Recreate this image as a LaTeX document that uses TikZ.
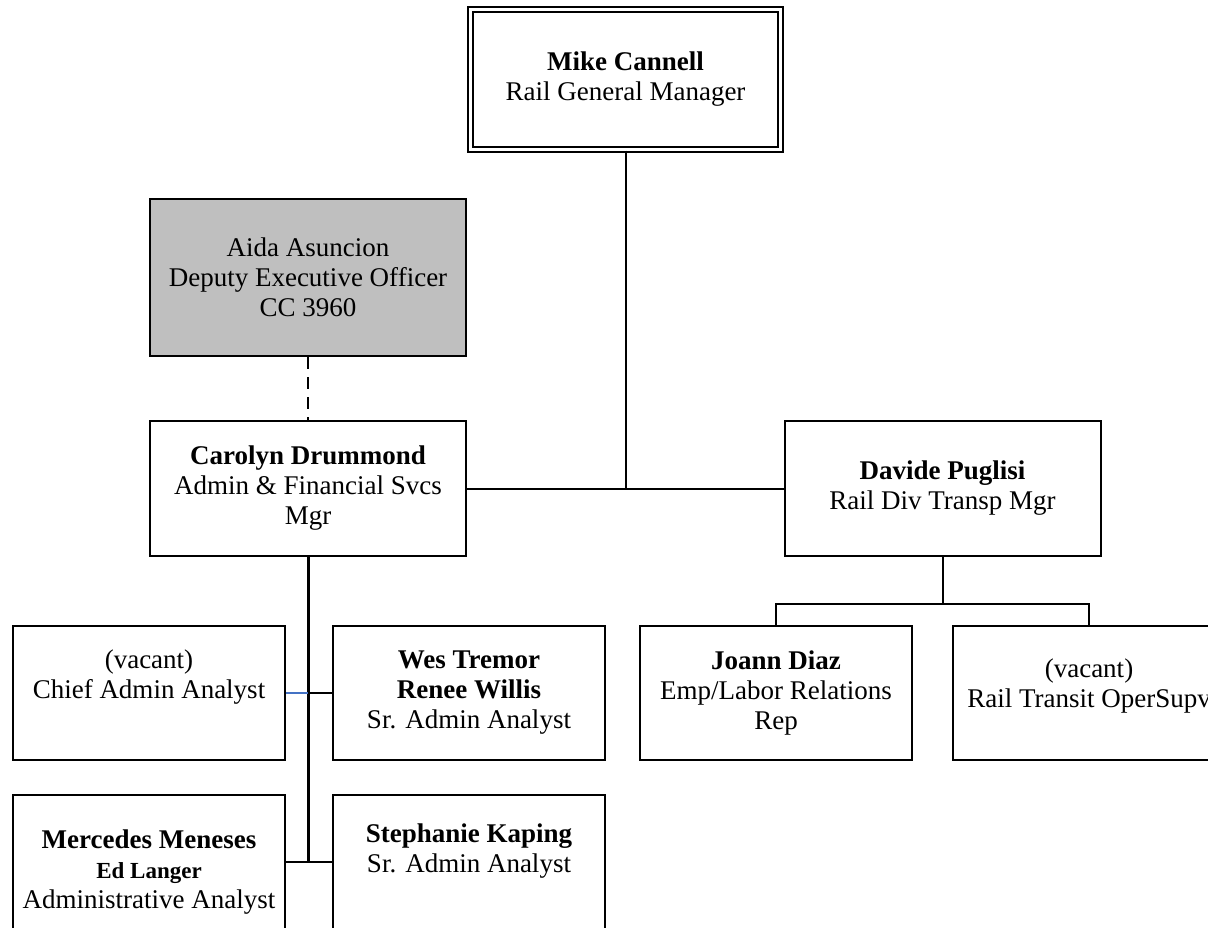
\documentclass[tikz,border=0pt]{standalone}
\usepackage{fontspec}
\setmainfont{Liberation Serif}
\usetikzlibrary{calc}

\definecolor{deputygray}{RGB}{191,191,191}
\definecolor{linkblue}{RGB}{68,114,196}

\begin{document}
\begin{tikzpicture}[
    x=1pt, y=-1pt,
    font=\fontsize{27}{30}\selectfont,
    post/.style={rectangle, draw=black, line width=2pt, inner sep=0pt, minimum width=272pt, minimum height=134pt},
    headpost/.style={post, double, double distance=3pt, line width=2pt, minimum width=310pt, minimum height=140pt},
    deputy/.style={post, fill=deputygray, minimum width=316pt, minimum height=157pt},
    mgrpost/.style={post, minimum width=316pt, minimum height=135pt},
    txt/.style={align=center, inner sep=0pt},
    link/.style={draw=black, line width=2pt},
    trunk/.style={draw=black, line width=3pt},
    dashlink/.style={link, dash pattern=on 12pt off 8pt},
    bluelink/.style={draw=linkblue, line width=1.6pt}
]
\useasboundingbox (0,0) rectangle (1208,927);
\fill[white] (0,0) rectangle (1208,927);
\clip (0,0) rectangle (1208,927);
% ---------------- TOP ----------------
\node[headpost] (mike) at (625.5,79.5) {};
\node[txt] (mike-t) at (mike) {\textbf{Mike Cannell}\\Rail General Manager};
\node[deputy] (aida) at (308,277.5) {};
\node[txt] (aida-t) at (aida) {Aida Asuncion\\Deputy Executive Officer\\CC 3960};
% ---------------- MANAGERS ----------------
\node[mgrpost] (carolyn) at (308,488.5) {};
\node[txt] (carolyn-t) at (carolyn) {\textbf{Carolyn Drummond}\\Admin \& Financial Svcs\\Mgr};
\node[mgrpost] (davide) at (942.5,488.5) {};
\node[txt] (davide-t) at (davide) {\textbf{Davide Puglisi}\\Rail Div Transp Mgr};
% ---------------- STAFF ----------------
\node[post] (chief) at (149,693) {};
\node[txt, yshift=15.5pt] (chief-t) at (chief) {(vacant)\\Chief Admin Analyst};
\node[post] (wes) at (469,693) {};
\node[txt] (wes-t) at (wes) {\textbf{Wes Tremor}\\\textbf{Renee Willis}\\Sr. Admin Analyst};
\node[post] (mercedes) at (149,862) {};
\node[txt, yshift=-10pt] (mercedes-t) at (mercedes) {\textbf{Mercedes Meneses}\\{\fontsize{23}{26}\selectfont\textbf{Ed Langer}}\\Administrative Analyst};
\node[post] (stephanie) at (469,862) {};
\node[txt, yshift=10.5pt] (stephanie-t) at (stephanie) {\textbf{Stephanie Kaping}\\Sr. Admin Analyst};
\node[post] (joann) at (776,693) {};
\node[txt] (joann-t) at (joann) {\textbf{Joann Diaz}\\Emp/Labor Relations\\Rep};
\node[post] (vacant2) at (1089,693) {};
\node[txt, yshift=7.5pt] (vacant2-t) at (vacant2) {(vacant)\\Rail Transit OperSupv};
% ---------------- CONNECTORS ----------------
\draw[link] (mike.south) -- (mike.south |- carolyn.east);
\draw[link] (carolyn.east) -- (davide.west);
\draw[dashlink] (aida.south) -- (carolyn.north);
\draw[trunk] (carolyn.south) -- (carolyn.south |- mercedes.east);
\draw[bluelink] (chief.east) -- (carolyn.south |- chief.east);
\draw[link] (carolyn.south |- wes.west) -- (wes.west);
\draw[link] (mercedes.east) -- (stephanie.west);
\draw[link] (davide.south) -- ++(0,47) coordinate (rbus);
\draw[link] (joann.north) |- (rbus) -| (vacant2.north);
\end{tikzpicture}
\end{document}
